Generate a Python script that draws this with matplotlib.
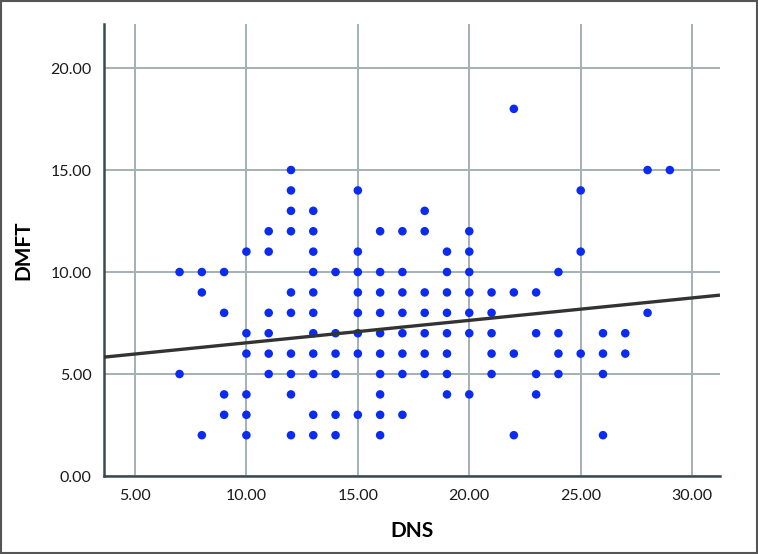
import numpy as np
import matplotlib
matplotlib.use("Agg")
import matplotlib.pyplot as plt
from matplotlib.patches import Rectangle

# Data (DNS value -> list of DMFT values)
dns_values = [7, 7,
              8, 8, 8,
              9, 9, 9, 9,
              10, 10, 10, 10, 10, 10,
              11, 11, 11, 11, 11, 11,
              12, 12, 12, 12, 12, 12, 12, 12, 12, 12,
              13, 13, 13, 13, 13, 13, 13, 13, 13, 13, 13,
              14, 14, 14, 14, 14, 14,
              15, 15, 15, 15, 15, 15, 15, 15,
              16, 16, 16, 16, 16, 16, 16, 16, 16, 16,
              17, 17, 17, 17, 17, 17, 17, 17,
              18, 18, 18, 18, 18, 18, 18,
              19, 19, 19, 19, 19, 19, 19, 19,
              20, 20, 20, 20, 20, 20, 20,
              21, 21, 21, 21, 21,
              22, 22, 22, 22,
              23, 23, 23, 23,
              24, 24, 24, 24,
              25, 25, 25,
              26, 26, 26, 26,
              27, 27,
              28, 28,
              29]
dmft_values = [10, 5,
               10, 9, 2,
               10, 8, 4, 3,
               11, 7, 6, 4, 3, 2,
               12, 11, 8, 7, 6, 5,
               15, 14, 13, 12, 9, 8, 6, 5, 4, 2,
               13, 12, 11, 10, 9, 8, 7, 6, 5, 3, 2,
               10, 7, 6, 5, 3, 2,
               14, 11, 10, 9, 8, 7, 6, 3,
               12, 10, 9, 8, 7, 6, 5, 4, 3, 2,
               12, 10, 9, 8, 7, 6, 5, 3,
               13, 12, 9, 8, 7, 6, 5,
               11, 10, 9, 8, 7, 6, 5, 4,
               12, 11, 10, 9, 8, 7, 4,
               9, 8, 7, 6, 5,
               18, 9, 6, 2,
               9, 7, 5, 4,
               10, 7, 6, 5,
               14, 11, 6,
               7, 6, 5, 2,
               7, 6,
               15, 8,
               15]

# Fit line
fit_intercept = 5.43
fit_slope = 0.11

x_ticks = [5, 10, 15, 20, 25, 30]
y_ticks = [0, 5, 10, 15, 20]
x_label = "DNS"
y_label = "DMFT"

plt.rcParams['font.family'] = ['Lato', 'DejaVu Sans']

fig = plt.figure(figsize=(7.58, 5.54), dpi=100)
ax = fig.add_axes([104/758, 78/554, 616/758, 452/554])

xmin, xmax = 3.61, 31.25
ax.set_xlim(xmin, xmax)
ax.set_ylim(0, 22.16)

grid_c = '#a3b1b5'
ax.set_xticks(x_ticks)
ax.set_yticks(y_ticks)
ax.set_xticklabels([f"{v:.2f}" for v in x_ticks])
ax.set_yticklabels([f"{v:.2f}" for v in y_ticks])
ax.grid(True, color=grid_c, linewidth=1.4)
ax.set_axisbelow(True)
ax.tick_params(length=0, labelsize=11.5, colors='#1a1a1a', pad=9)

for s in ['top', 'right']:
    ax.spines[s].set_visible(False)
for s in ['left', 'bottom']:
    ax.spines[s].set_color('#3a4a50')
    ax.spines[s].set_linewidth(1.8)

ax.scatter(dns_values, dmft_values, s=38, color='#0b2cf0', edgecolors='none', zorder=3)

lx = np.array([xmin, xmax])
ax.plot(lx, fit_intercept + fit_slope * lx, color='#333333', linewidth=2.4, zorder=4,
        solid_capstyle='butt')

ax.set_xlabel(x_label, fontsize=15, fontweight='bold', labelpad=13)
ax.set_ylabel(y_label, fontsize=15, fontweight='bold', labelpad=12)

fig.patches.append(Rectangle((0.001, 0.001), 0.998, 0.997, transform=fig.transFigure,
                             fill=False, edgecolor='#555555', linewidth=1.5))

fig.savefig("out.png", dpi=100)
